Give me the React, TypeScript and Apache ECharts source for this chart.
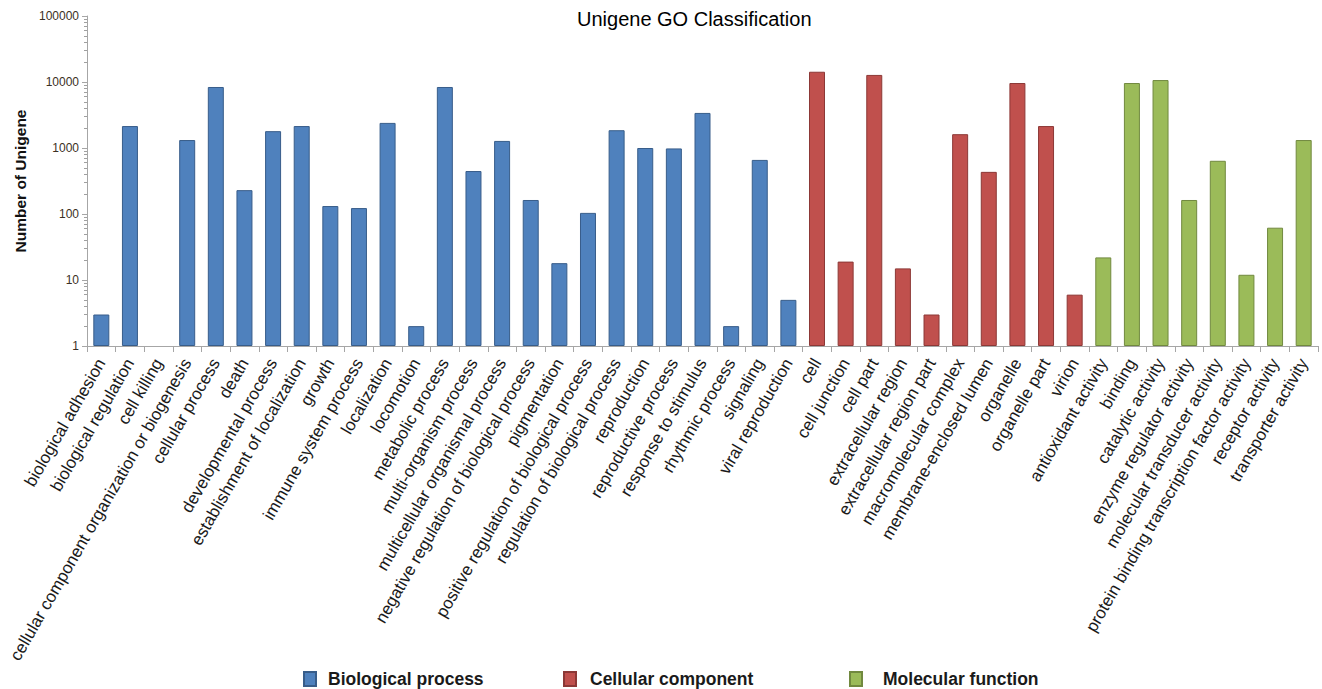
import React, { useEffect, useRef } from "react";
import * as echarts from "echarts";

const titleText = "Unigene GO Classification";
const yAxisName = "Number of Unigene";

const bpName = "Biological process";
const ccName = "Cellular component";
const mfName = "Molecular function";

const bpCategories = [
  "biological adhesion",
  "biological regulation",
  "cell killing",
  "cellular component organization or biogenesis",
  "cellular process",
  "death",
  "developmental process",
  "establishment of localization",
  "growth",
  "immune system process",
  "localization",
  "locomotion",
  "metabolic process",
  "multi-organism process",
  "multicellular organismal process",
  "negative regulation of biological process",
  "pigmentation",
  "positive regulation of biological process",
  "regulation of biological process",
  "reproduction",
  "reproductive process",
  "response to stimulus",
  "rhythmic process",
  "signaling",
  "viral reproduction",
];
const bpValues = [
  3, 2150, 1, 1320, 8400, 230, 1800, 2150, 132, 123, 2400, 2, 8400, 448, 1280,
  163, 18, 104, 1860, 1000, 985, 3400, 2, 660, 5,
];

const ccCategories = [
  "cell",
  "cell junction",
  "cell part",
  "extracellular region",
  "extracellular region part",
  "macromolecular complex",
  "membrane-enclosed lumen",
  "organelle",
  "organelle part",
  "virion",
];
const ccValues = [14300, 19, 12800, 15, 3, 1620, 435, 9650, 2150, 6];

const mfCategories = [
  "antioxidant activity",
  "binding",
  "catalytic activity",
  "enzyme regulator activity",
  "molecular transducer activity",
  "protein binding transcription factor activity",
  "receptor activity",
  "transporter activity",
];
const mfValues = [22, 9650, 10700, 163, 640, 12, 62, 1320];

const yMin = 1;
const yMax = 100000;

export default function App() {
  const ref = useRef<HTMLDivElement>(null);

  useEffect(() => {
    if (!ref.current) return;
    const chart = echarts.init(ref.current, undefined, { renderer: "svg" });

    const categories = [...bpCategories, ...ccCategories, ...mfCategories];
    const n = categories.length;
    const blank = (k: number) => Array.from({ length: k }, () => null);
    const item = (v: number) =>
      v <= yMin ? { value: v, itemStyle: { borderWidth: 0 } } : v;
    const bpData = [...bpValues.map(item), ...blank(n - bpValues.length)];
    const ccData = [
      ...blank(bpValues.length),
      ...ccValues.map(item),
      ...blank(mfValues.length),
    ];
    const mfData = [...blank(n - mfValues.length), ...mfValues.map(item)];

    const minorTicks: number[] = [];
    for (let d = yMin; d < yMax; d *= 10) {
      for (let m = 2; m <= 9; m++) minorTicks.push(d * m);
    }

    const font = "'Liberation Sans', Arial, sans-serif";
    const barBase = { type: "bar" as const, barWidth: 16, barGap: "-100%" };

    const legendText = {
      fontFamily: font,
      fontSize: 17.5,
      fontWeight: "bold" as const,
      color: "#1a1a1a",
    };
    const legendBase = {
      orient: "horizontal" as const,
      top: 670,
      padding: 0,
      itemWidth: 12,
      itemHeight: 14,
      icon: "rect",
    };

    chart.setOption({
      animation: false,
      backgroundColor: "#ffffff",
      title: {
        text: titleText,
        left: 577,
        top: 9,
        padding: 0,
        textStyle: { fontFamily: font, fontSize: 20, fontWeight: "normal", color: "#000" },
      },
      legend: [
        { ...legendBase, left: 303, data: [bpName], textStyle: { ...legendText, padding: [0, 0, 0, 7] } },
        { ...legendBase, left: 563, data: [ccName], textStyle: { ...legendText, padding: [0, 0, 0, 9] } },
        { ...legendBase, left: 849, data: [mfName], textStyle: { ...legendText, padding: [0, 0, 0, 16] } },
      ],
      grid: { left: 87, right: 4, top: 16, bottom: 343, containLabel: false },
      xAxis: {
        type: "category",
        data: categories,
        boundaryGap: true,
        axisLine: { lineStyle: { color: "#a6a6a6", width: 1 } },
        axisTick: { show: true, alignWithLabel: false, length: 6, lineStyle: { color: "#a6a6a6" } },
        axisLabel: {
          rotate: 60,
          interval: 0,
          margin: 14,
          fontFamily: font,
          fontSize: 17,
          color: "#1a1a1a",
        },
        splitLine: { show: false },
      },
      yAxis: [
        {
          type: "log",
          logBase: 10,
          min: yMin,
          max: yMax,
          name: yAxisName,
          nameLocation: "middle",
          nameGap: 56,
          nameRotate: 90,
          nameTextStyle: { fontFamily: font, fontSize: 15.5, fontWeight: "bold", color: "#111" },
          axisLine: { show: true, lineStyle: { color: "#a6a6a6", width: 1 } },
          axisTick: { show: true, length: 5, lineStyle: { color: "#a6a6a6" } },
          axisLabel: {
            fontFamily: font,
            fontSize: 12,
            color: "#3b3024",
            margin: 8,
            formatter: (v: number) => String(Math.round(v)),
          },
          splitLine: { show: false },
        },
        {
          type: "log",
          logBase: 10,
          min: yMin,
          max: yMax,
          position: "left",
          axisLine: { show: false },
          axisTick: { show: true, length: 3, customValues: minorTicks, lineStyle: { color: "#a0a0a0" } },
          axisLabel: { show: false },
          splitLine: { show: false },
        },
      ],
      series: [
        {
          ...barBase,
          name: bpName,
          data: bpData,
          itemStyle: { color: "#4F81BD", borderColor: "#385D8A", borderWidth: 1 },
        },
        {
          ...barBase,
          name: ccName,
          data: ccData,
          itemStyle: { color: "#C0504D", borderColor: "#8C3836", borderWidth: 1 },
        },
        {
          ...barBase,
          name: mfName,
          data: mfData,
          itemStyle: { color: "#9BBB59", borderColor: "#71893F", borderWidth: 1 },
        },
      ],
    });

    return () => chart.dispose();
  }, []);

  return (
    <div
      ref={ref}
      style={{ position: "fixed", left: 0, top: 0, width: 1322, height: 689 }}
    />
  );
}
